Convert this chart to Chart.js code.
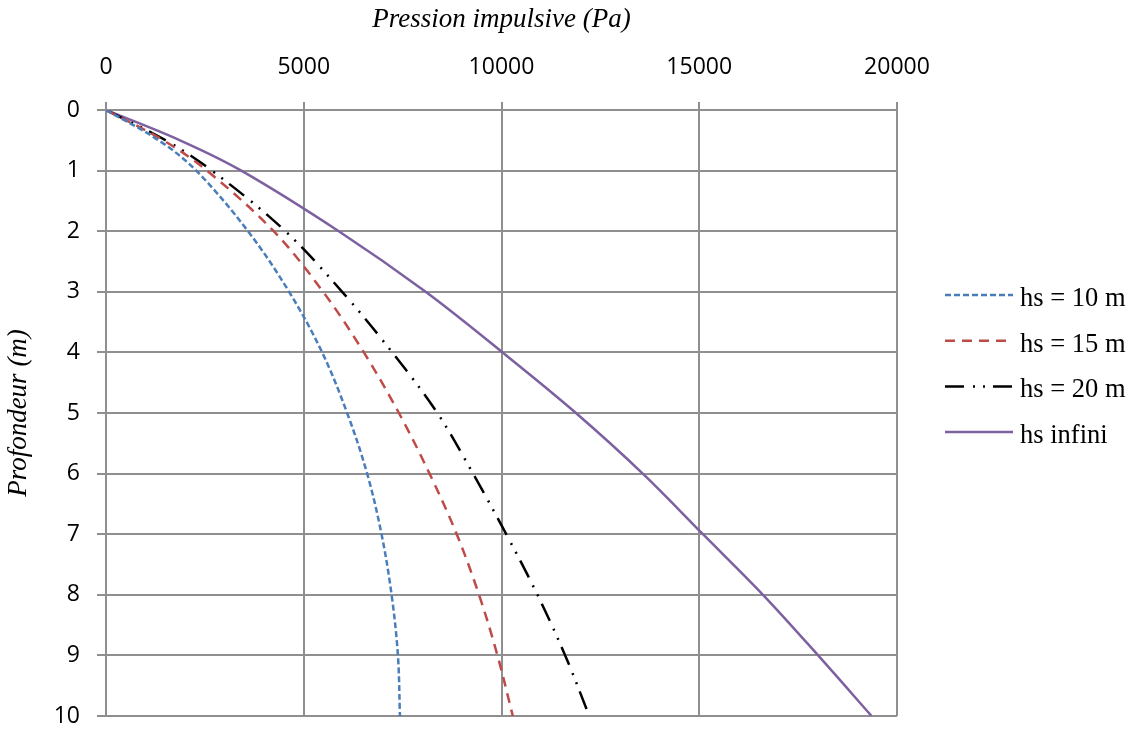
<!DOCTYPE html>
<html>
<head>
<meta charset="utf-8">
<script src="https://cdn.jsdelivr.net/npm/chart.js@4.4.1/dist/chart.umd.min.js"></script>
<style>
  html, body { margin: 0; padding: 0; background: #fff; overflow: hidden; }
  canvas { display: block; }
</style>
</head>
<body>
<canvas id="graphe" width="1133" height="729"></canvas>
<script>
// Profondeur (m) et pression impulsive (Pa) pour chaque hauteur hs
const profondeurs = [0, 0.5, 1, 2, 3, 4, 5, 6, 7, 8, 9, 10];
const pressionHs10 = [0, 1330, 2280, 3590, 4630, 5465, 6097, 6603, 6967, 7221, 7381, 7432];
const pressionHs15 = [0, 1450, 2551, 4240, 5490, 6520, 7406, 8180, 8868, 9432, 9898, 10286];
const pressionHs20 = [0, 1510, 2677, 4535, 5971, 7238, 8378, 9280, 10120, 10910, 11610, 12220];
const pressionHsInfini = [0, 1870, 3420, 5886, 8082, 10025, 11882, 13572, 15093, 16612, 18006, 19357];

const nomsSeries = ['hs = 10 m', 'hs = 15 m', 'hs = 20 m', 'hs infini'];
const xTicks = [0, 5000, 10000, 15000, 20000];
const yTicks = [0, 1, 2, 3, 4, 5, 6, 7, 8, 9, 10];

const couleurGrille = '#8f8f8f';
const policeTicks = "'Open Sans', 'Noto Sans', sans-serif";
const policeSerif = "'Liberation Serif', 'Times New Roman', serif";

// transforme une série de pressions en points {x, y}
function points(pressions) {
    return pressions.map((p, i) => ({ x: p, y: profondeurs[i] }));
}

function serie(label, pressions, couleur, tirets) {
    return {
        label: label,
        data: points(pressions),
        borderColor: couleur,
        backgroundColor: couleur,
        borderWidth: 2.5,
        borderDash: tirets,
        borderCapStyle: 'butt',
        pointRadius: 0,
        showLine: true,
        tension: 0.35,
        fill: false
    };
}

const datasets = [
    serie(nomsSeries[0], pressionHs10, '#4a7ebb', [6, 3]),
    serie(nomsSeries[1], pressionHs15, '#be4b48', [10, 7]),
    serie(nomsSeries[2], pressionHs20, '#000000', [19, 9, 2, 8, 2, 8]),
    serie(nomsSeries[3], pressionHsInfini, '#7d60a0', [])
];

// légende dessinée à droite du graphique
const legendeDroite = {
    id: 'legendeDroite',
    afterDraw(chart) {
        const ctx = chart.ctx;
        const x0 = 945, x1 = 1013, xTexte = 1020;
        const yDebut = 295, pas = 45.7;
        ctx.save();
        chart.data.datasets.forEach((ds, i) => {
            const y = yDebut + i * pas;
            ctx.strokeStyle = ds.borderColor;
            ctx.lineWidth = ds.borderWidth;
            ctx.lineCap = 'butt';
            ctx.setLineDash(ds.borderDash);
            ctx.beginPath();
            ctx.moveTo(x0, y);
            ctx.lineTo(x1, y);
            ctx.stroke();
            ctx.setLineDash([]);
            ctx.fillStyle = '#000';
            ctx.font = '26.5px ' + policeSerif;
            ctx.textAlign = 'left';
            ctx.textBaseline = 'middle';
            ctx.fillText(ds.label, xTexte, y + 4);
        });
        ctx.restore();
    }
};

const ctx = document.getElementById('graphe').getContext('2d');
new Chart(ctx, {
    type: 'scatter',
    data: { datasets: datasets },
    options: {
        responsive: false,
        animation: false,
        layout: { padding: { left: 0, top: 0, right: 236, bottom: 13 } },
        plugins: {
            legend: { display: false },
            tooltip: { enabled: false }
        },
        scales: {
            x: {
                type: 'linear',
                position: 'top',
                min: 0,
                max: 20000,
                afterFit(scale) { scale.height = 110; },
                afterBuildTicks(scale) { scale.ticks = xTicks.map(v => ({ value: v })); },
                ticks: {
                    color: '#000',
                    padding: 21,
                    maxRotation: 0,
                    font: { family: policeTicks, size: 23, lineHeight: 1.2 },
                    callback: v => String(v)
                },
                grid: { color: couleurGrille, lineWidth: 2, tickLength: 8 },
                border: { color: couleurGrille, width: 2 },
                title: {
                    display: true,
                    text: 'Pression impulsive (Pa)',
                    color: '#000',
                    padding: { top: 4, bottom: 0 },
                    font: { family: policeSerif, size: 27, style: 'italic', lineHeight: 1.2 }
                }
            },
            y: {
                type: 'linear',
                position: 'left',
                reverse: true,
                min: 0,
                max: 10,
                afterFit(scale) {
                    // largeur fixe et pas de marge ajoutée par les libellés
                    scale.width = 106;
                    scale.paddingTop = 0;
                    scale.paddingBottom = 0;
                },
                afterBuildTicks(scale) { scale.ticks = yTicks.map(v => ({ value: v })); },
                ticks: {
                    color: '#000',
                    padding: 17,
                    font: { family: policeTicks, size: 23, lineHeight: 1 },
                    callback: v => String(v)
                },
                grid: { color: couleurGrille, lineWidth: 2, tickLength: 9 },
                border: { color: couleurGrille, width: 2 },
                title: {
                    display: true,
                    text: 'Profondeur (m)',
                    color: '#000',
                    padding: { top: 3, bottom: 0 },
                    font: { family: policeSerif, size: 27, style: 'italic', lineHeight: 1.2 }
                }
            }
        }
    },
    plugins: [legendeDroite]
});
</script>
</body>
</html>
